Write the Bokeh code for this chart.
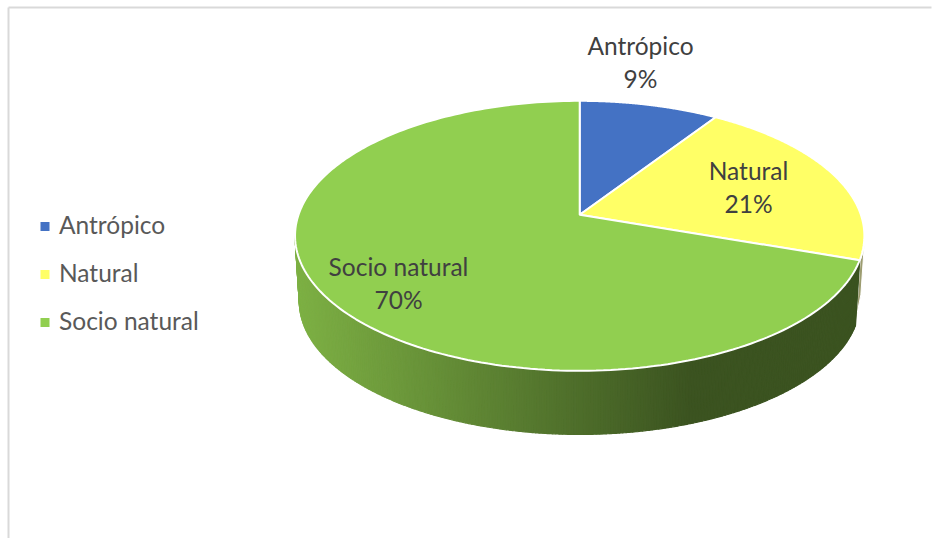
import numpy as np
from bokeh.plotting import figure
from bokeh.embed import file_html
from bokeh.resources import INLINE
from bokeh.models import Range1d

categories = ["Antrópico", "Natural", "Socio natural"]
values = [9.2, 21.1, 69.7]
colors = ["#4472C4", "#FFFF66", "#91CF50"]
side_light = (125, 176, 68)
side_dark = (59, 83, 32)

W, H = 935, 538

p = figure(width=W, height=H, output_backend="svg", toolbar_location=None,
           x_range=Range1d(0, W), y_range=Range1d(H, 0),
           min_border=0, outline_line_color=None)
p.xaxis.visible = False
p.yaxis.visible = False
p.grid.visible = False

# perspective disc
CX, CY, R, B, K = 579.2, 214.3, 281.2, 131.7, 0.1556
DEPTH, SHRINK = 66.0, 0.985

def top(theta):
    u, v = np.sin(theta), np.cos(theta)
    d = 1 + K * v
    return CX + R * u / d, CY - B * v / d

def bot(theta):
    u, v = np.sin(theta), np.cos(theta)
    d = 1 + K * v
    return CX + SHRINK * R * u / d, CY + DEPTH - SHRINK * B * v / d

fr = np.cumsum([0] + values) / sum(values)
ang = fr * 2 * np.pi

# frame
p.line([8, 8], [H, 7], line_color="#D9D9D9", line_width=2)
p.line([8, 931], [7, 7], line_color="#D9D9D9", line_width=2)

# sliver of Natural slice's side
e = ang[2]
ts = np.linspace(e - 0.17, e, 12)
tx, ty = top(ts)
p.patch(list(tx + 0.5) + [tx[-1] - 3.5, tx[0] - 3.5], list(ty) + [ty[-1] + 58, ty[0] + 58],
        fill_color="#9C9C70", line_color="#FFFFFF", line_width=1)

# gradient side of Socio natural slice
ths = np.linspace(ang[2], 2 * np.pi - np.arccos(-K), 260)
for a, b in zip(ths[:-1], ths[1:]):
    seg = np.linspace(a, b, 3)
    x1, y1 = top(seg)
    x2, y2 = bot(seg[::-1])
    xm = x1.mean()
    t = np.clip((690 - xm) / (690 - 296), 0, 1)
    c = tuple(int(round(side_dark[i] + t * (side_light[i] - side_dark[i]))) for i in range(3))
    col = "#%02x%02x%02x" % c
    p.patch(list(x1) + list(x2), list(y1) + list(y2), fill_color=col, line_color=col, line_width=1.2)

# top faces
for i, col in enumerate(colors):
    ts = np.linspace(ang[i], ang[i + 1], 200)
    x, y = top(ts)
    p.patch([CX] + list(x), [CY] + list(y), fill_color=col, line_color="#FFFFFF", line_width=2)

# data labels
label_pos = [(640, 45), (748, 170), (398, 266)]
for c, v, (lx, ly) in zip(categories, values, label_pos):
    for txt, dy in ((c, 0), ("%d%%" % round(v / sum(values) * 100), 33)):
        p.text([lx], [ly + dy], text=[txt], text_align="center", text_baseline="middle",
               text_color="#404040", text_font_size="18.4pt", text_font={"value": "Lato"})

# legend
leg_y = [226, 274, 322]
for c, col, y in zip(categories, colors, leg_y):
    p.scatter([44.5], [y], marker="square", size=9, fill_color=col, line_color=None)
    p.text([58.5], [y - 2], text=[c], text_align="left", text_baseline="middle",
           text_color="#595959", text_font_size="18.4pt", text_font={"value": "Lato"})

open("out.html", "w").write(file_html(p, INLINE))
